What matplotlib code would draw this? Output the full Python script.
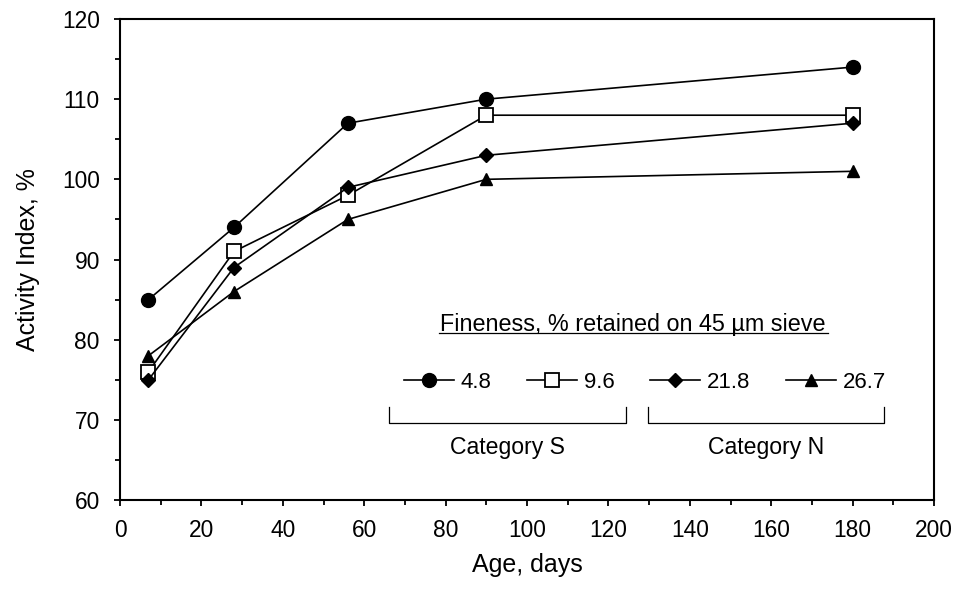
import matplotlib.pyplot as plt

plt.rcParams['font.family'] = ['Liberation Sans', 'DejaVu Sans']

age = [7, 28, 56, 90, 180]
ai_48 = [85, 94, 107, 110, 114]
ai_96 = [76, 91, 98, 108, 108]
ai_218 = [75, 89, 99, 103, 107]
ai_267 = [78, 86, 95, 100, 101]

fig = plt.figure(figsize=(9.58, 5.94), dpi=100)
ax = fig.add_axes([120/958, 1-500/594, 814/958, 481/594])

ax.plot(age, ai_48, '-o', color='black', lw=1.2, ms=10, label='4.8')
ax.plot(age, ai_96, '-s', color='black', lw=1.2, ms=10, mfc='white', mew=1.3, label='9.6')
ax.plot(age, ai_218, '-D', color='black', lw=1.2, ms=7, label='21.8')
ax.plot(age, ai_267, '-^', color='black', lw=1.2, ms=9, label='26.7')

ax.set_xlim(0, 200)
ax.set_ylim(60, 120)
ax.set_xticks(range(0, 201, 20))
ax.set_xticks(range(0, 201, 10), minor=True)
ax.set_yticks(range(60, 121, 10))
ax.set_yticks(range(60, 121, 5), minor=True)
ax.tick_params(which='both', direction='out', labelsize=16.4, width=1.3)
ax.tick_params(which='major', length=4.5)
ax.tick_params(which='minor', length=3.5)
ax.tick_params(axis='y', pad=10)
ax.tick_params(axis='x', pad=9)
for s in ax.spines.values():
    s.set_linewidth(1.5)

ax.set_xlabel('Age, days', fontsize=18, labelpad=8)
ax.set_ylabel('Activity Index, %', fontsize=18, labelpad=16)

ax.legend(loc='center', bbox_to_anchor=(0.645, 0.245), ncol=4, frameon=False,
          fontsize=16, handlelength=2.25, handletextpad=0.3, columnspacing=1.6)

ax.text(126, 81.9, 'Fineness, % retained on 45 µm sieve', ha='center', va='center', fontsize=16.8)
ax.plot([78.4, 174], [80.85, 80.85], color='black', lw=0.9)

# brackets
for x0, x1, name in [(66.1, 124.3, 'Category S'), (129.7, 187.7, 'Category N')]:
    ax.plot([x0, x0, x1, x1], [71.6, 69.6, 69.6, 71.6], color='black', lw=0.9)
    ax.text((x0 + x1) / 2, 66.5, name, ha='center', va='center', fontsize=16.6)

fig.savefig('out.png')
